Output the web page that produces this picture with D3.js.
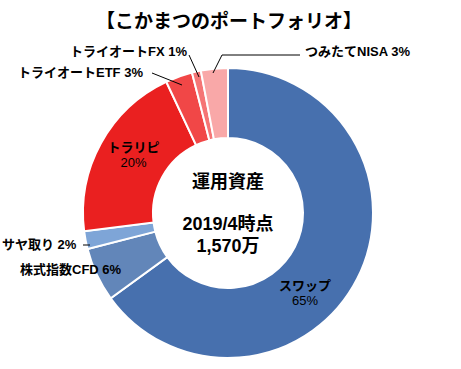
<!DOCTYPE html>
<html>
<head>
<meta charset="utf-8">
<script src="https://cdn.jsdelivr.net/npm/d3@7"></script>
<style>
  body { margin: 0; background: #fff; }
  text { font-family: "Liberation Sans", "Noto Sans CJK JP", sans-serif; fill: #000; }
  .title { font-family: "Noto Sans CJK JP", sans-serif; }
</style>
</head>
<body>
<div id="chart"></div>
<script>
// data
var names = ["スワップ", "株式指数CFD", "サヤ取り", "トラリピ", "トライオートETF", "トライオートFX", "つみたてNISA"];
var shares = [65, 6, 2, 20, 3, 1, 3];
var lightColors = ["#7093c8", "#88a5ce", "#95b6e2", "#f44848", "#f75c5c", "#f98888", "#fcbaba"];
var darkColors  = ["#4770ae", "#6286b9", "#7ea5d7", "#ea2020", "#f14747", "#f57575", "#f9a8a8"];

var width = 461, height = 369;
var cx = 228, cy = 213;
var outerR = 145, innerR = 75;

var svg = d3.select("#chart").append("svg")
  .attr("width", width)
  .attr("height", height);

// title
svg.append("text")
  .attr("class", "title")
  .attr("x", 229)
  .attr("y", 28)
  .attr("text-anchor", "middle")
  .style("font-size", "19px")
  .style("font-weight", "bold")
  .text("【こかまつのポートフォリオ】");

var data = names.map(function(n, i) { return {name: n, value: shares[i], i: i}; });

var pie = d3.pie().sort(null).value(function(d) { return d.value; });
var arc = d3.arc().innerRadius(innerR).outerRadius(outerR);
var arcs = pie(data);

// radial gradients, lighter toward the middle of the ring
var defs = svg.append("defs");
data.forEach(function(d, i) {
  var gr = defs.append("radialGradient")
    .attr("id", "grad" + i)
    .attr("gradientUnits", "userSpaceOnUse")
    .attr("cx", cx).attr("cy", cy).attr("r", outerR);
  gr.append("stop").attr("offset", "0.45").attr("stop-color", lightColors[i]);
  gr.append("stop").attr("offset", "1").attr("stop-color", darkColors[i]);
});

var g = svg.append("g").attr("transform", "translate(" + cx + "," + cy + ")");

g.selectAll("path.slice")
  .data(arcs)
  .enter().append("path")
    .attr("class", "slice")
    .attr("d", arc)
    .attr("fill", function(d) { return "url(#grad" + d.data.i + ")"; })
    .attr("stroke", "#fff")
    .attr("stroke-width", 2);

// center text
g.append("text").attr("y", -25).attr("text-anchor", "middle")
  .style("font-size", "18px").style("font-weight", "bold").text("運用資産");
g.append("text").attr("y", 17).attr("text-anchor", "middle")
  .style("font-size", "18px").style("font-weight", "bold").text("2019/4時点");
g.append("text").attr("y", 39).attr("text-anchor", "middle")
  .style("font-size", "18px").style("font-weight", "bold").text("1,570万");

// inside labels, offset from the slice centroid
var inside = [{i: 0, dx: -21, dy: 27}, {i: 3, dx: 2, dy: -8}];
inside.forEach(function(o) {
  var d = arcs[o.i];
  var p = arc.centroid(d);
  var x = p[0] + o.dx, y = p[1] + o.dy;
  g.append("text")
    .attr("x", x).attr("y", y)
    .attr("text-anchor", "middle")
    .style("font-size", "13px").style("font-weight", "bold")
    .text(d.data.name);
  g.append("text")
    .attr("x", x).attr("y", y + 15)
    .attr("text-anchor", "middle")
    .style("font-size", "13px")
    .text(d.data.value + "%");
});

// outside labels with leader lines
var outside = [
  {i: 1, tx: -208, ty: 61, line: null},
  {i: 2, tx: -226, ty: 36, line: [[-145, 32], [-138, 32]]},
  {i: 4, tx: -210, ty: -136, line: [[-76, -140], [-46, -128]]},
  {i: 5, tx: -158, ty: -157, line: [[-39, -158], [-29, -136]]},
  {i: 6, tx: 77, ty: -157, line: [[72, -158], [-6, -158], [-15, -140]]}
];

outside.forEach(function(o) {
  var d = arcs[o.i];
  if (o.line) {
    g.append("path")
      .attr("d", d3.line()(o.line))
      .attr("fill", "none")
      .attr("stroke", "#000")
      .attr("stroke-width", 1);
  }
  g.append("text")
    .attr("x", o.tx)
    .attr("y", o.ty)
    .style("font-size", "13px")
    .style("font-weight", "bold")
    .text(d.data.name + " " + d.data.value + "%");
});
</script>
</body>
</html>
